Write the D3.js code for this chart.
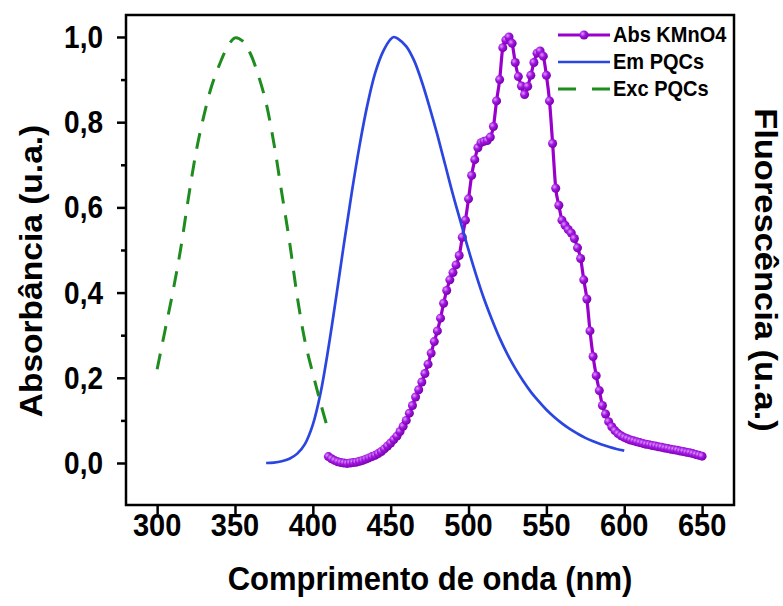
<!DOCTYPE html>
<html>
<head>
<meta charset="utf-8">
<script src="https://cdn.jsdelivr.net/npm/d3@7"></script>
<style>
body { margin: 0; background: #fff; }
svg text { font-family: "Liberation Sans", Arial, sans-serif; font-weight: bold; fill: #000; }
</style>
</head>
<body>
<div id="chart"></div>
<script>
"use strict";

// Abs KMnO4 (purple, with markers)
var absWl = [410,412,414,416,418,420,422,424,426,428,430,432,434,436,438,440,442,444,446,448,
	450,452,454,456,458,460,462,464,466,468,470,472,474,476,478,480,482,484,486,488,
	490,492,494,496,498,500,502,504,506,508,510,512,514,516,518,520,522,524,526,528,
	530,532,534,536,538,540,542,544,546,548,550,552,554,556,558,560,562,564,566,568,
	570,572,574,576,578,580,582,584,586,588,590,592,594,596,598,600,602,604,606,608,
	610,612,614,616,618,620,622,624,626,628,630,632,634,636,638,640,642,644,646,648,650];
var absVal = [0.015,0.010,0.006,0.003,0.001,0.000,-0.001,0.000,0.001,0.002,0.004,0.006,0.009,0.012,0.015,0.018,0.022,0.027,0.033,0.040,
	0.047,0.055,0.063,0.074,0.086,0.100,0.117,0.135,0.155,0.172,0.190,0.210,0.232,0.258,0.285,0.310,0.340,0.375,0.405,0.430,
	0.447,0.465,0.487,0.530,0.570,0.620,0.675,0.712,0.740,0.752,0.755,0.757,0.765,0.790,0.850,0.900,0.975,0.993,1.000,0.985,
	0.940,0.907,0.885,0.865,0.884,0.910,0.940,0.962,0.967,0.955,0.910,0.850,0.750,0.645,0.605,0.570,0.558,0.548,0.540,0.527,
	0.505,0.480,0.430,0.385,0.310,0.250,0.205,0.170,0.135,0.115,0.097,0.085,0.076,0.069,0.064,0.060,0.057,0.054,0.052,0.050,
	0.048,0.046,0.044,0.043,0.041,0.040,0.038,0.037,0.035,0.034,0.032,0.031,0.030,0.028,0.027,0.025,0.024,0.022,0.020,0.018,0.016];

// Em PQCs (blue)
var emWl = [370,375,380,385,390,395,400,405,410,415,420,425,430,435,440,445,450,452,455,460,
	465,470,475,480,485,490,495,500,505,510,515,520,525,530,535,540,545,550,555,560,
	565,570,575,580,585,590,595,600];
var emVal = [0.000,0.001,0.004,0.010,0.022,0.045,0.090,0.165,0.270,0.390,0.515,0.635,0.745,0.840,0.915,0.965,0.995,1.000,0.995,0.978,
	0.945,0.895,0.835,0.770,0.700,0.630,0.565,0.500,0.440,0.385,0.337,0.293,0.255,0.222,0.193,0.167,0.145,0.125,0.108,0.093,
	0.080,0.069,0.059,0.051,0.044,0.038,0.033,0.029];

// Exc PQCs (green dashed)
var excWl = [300,305,310,315,320,325,330,335,340,345,350,355,360,365,370,375,380,385,390,395,400,405,410];
var excVal = [0.22,0.31,0.40,0.50,0.62,0.73,0.815,0.885,0.935,0.975,0.998,0.99,0.96,0.91,0.845,0.75,0.635,0.52,0.39,0.285,0.21,0.14,0.075];

var xTicks = [300,350,400,450,500,550,600,650];
var yTicks = [0.0,0.2,0.4,0.6,0.8,1.0];
var yMinor = [0.1,0.3,0.5,0.7,0.9];
var legendNames = ["Abs KMnO4", "Em PQCs", "Exc PQCs"];

var W = 783, H = 606;
var SY = 1.1; // text in the picture is a little taller than wide

var purple = "#9900cc", blue = "#2b45e0", green = "#1f8c1f";

var svg = d3.select("#chart").append("svg")
	.attr("width", W).attr("height", H);

var defs = svg.append("defs");
var grad = defs.append("radialGradient").attr("id", "ball")
	.attr("cx", "35%").attr("cy", "35%").attr("r", "70%");
grad.append("stop").attr("offset", "0%").attr("stop-color", "#dc9cff");
grad.append("stop").attr("offset", "45%").attr("stop-color", "#a214e0");
grad.append("stop").attr("offset", "100%").attr("stop-color", "#7400a8");

var x = d3.scaleLinear().domain([280, 670.5]).range([126, 734]);
var y = d3.scaleLinear().domain([-0.0986, 1.0516]).range([505, 15]);

var fmt = d3.formatLocale({ decimal: ",", thousands: ".", grouping: [3], currency: ["", ""] }).format(".1f");

// axes ticks (labels drawn separately so they can be stretched)
svg.append("g")
	.attr("transform", "translate(0,505)")
	.call(d3.axisBottom(x).tickValues(xTicks).tickSize(9).tickFormat(""))
	.call(function (g) { g.select(".domain").remove(); })
	.selectAll("line").attr("stroke", "#000").attr("stroke-width", 2.5);

svg.append("g")
	.attr("transform", "translate(126,0)")
	.call(d3.axisLeft(y).tickValues(yTicks).tickSize(9).tickFormat(""))
	.call(function (g) { g.select(".domain").remove(); })
	.selectAll("line").attr("stroke", "#000").attr("stroke-width", 2.5);

svg.append("g")
	.attr("transform", "translate(126,0)")
	.call(d3.axisLeft(y).tickValues(yMinor).tickSize(5).tickFormat(""))
	.call(function (g) { g.select(".domain").remove(); })
	.selectAll("line").attr("stroke", "#000").attr("stroke-width", 2.5);

svg.selectAll(".xlab").data(xTicks).enter().append("text")
	.attr("transform", function (d) { return "translate(" + x(d) + ",536) scale(1," + SY + ")"; })
	.attr("text-anchor", "middle")
	.style("font-size", "29px")
	.text(function (d) { return d; });

svg.selectAll(".ylab").data(yTicks).enter().append("text")
	.attr("transform", function (d) { return "translate(103," + y(d) + ") scale(1," + SY + ")"; })
	.attr("text-anchor", "end")
	.attr("dy", "0.36em")
	.style("font-size", "28px")
	.text(function (d) { return fmt(d); });

// frame
svg.append("rect")
	.attr("x", 126).attr("y", 15).attr("width", 608).attr("height", 490)
	.attr("fill", "none").attr("stroke", "#000").attr("stroke-width", 2.5);

// titles
svg.append("text")
	.attr("transform", "translate(430,590) scale(1," + SY + ")")
	.attr("text-anchor", "middle")
	.style("font-size", "31px")
	.text("Comprimento de onda (nm)");

svg.append("text")
	.attr("transform", "translate(42,271) rotate(-90) scale(" + SY + ",1)")
	.attr("text-anchor", "middle")
	.style("font-size", "30.5px")
	.text("Absorbância (u.a.)");

svg.append("text")
	.attr("transform", "translate(755,270) rotate(90) scale(1.13,1)")
	.attr("text-anchor", "middle")
	.style("font-size", "30.5px")
	.text("Fluorescência (u.a.)");

// series
var smooth = function (curve) {
	return d3.line()
		.x(function (d) { return x(d[0]); })
		.y(function (d) { return y(d[1]); })
		.curve(curve);
};

var absData = d3.zip(absWl, absVal);
var emData = d3.zip(emWl, emVal);
var excData = d3.zip(excWl, excVal);

svg.append("path").datum(absData)
	.attr("d", smooth(d3.curveMonotoneX)).attr("fill", "none")
	.attr("stroke", purple).attr("stroke-width", 3.2);

svg.selectAll(".dot").data(absData).enter().append("circle")
	.attr("cx", function (d) { return x(d[0]); })
	.attr("cy", function (d) { return y(d[1]); })
	.attr("r", 4.5)
	.attr("fill", "url(#ball)");

svg.append("path").datum(emData)
	.attr("d", smooth(d3.curveCatmullRom)).attr("fill", "none")
	.attr("stroke", blue).attr("stroke-width", 2.7);

svg.append("path").datum(excData)
	.attr("d", smooth(d3.curveCatmullRom)).attr("fill", "none")
	.attr("stroke", green).attr("stroke-width", 3)
	.attr("stroke-dasharray", "16,12");

// legend
var legendY = [35, 62, 89];
var lg = svg.append("g");
lg.append("line").attr("x1", 558).attr("x2", 610).attr("y1", legendY[0]).attr("y2", legendY[0])
	.attr("stroke", purple).attr("stroke-width", 3.2);
lg.append("circle").attr("cx", 584).attr("cy", legendY[0]).attr("r", 4.5).attr("fill", "url(#ball)");
lg.append("line").attr("x1", 558).attr("x2", 610).attr("y1", legendY[1]).attr("y2", legendY[1])
	.attr("stroke", blue).attr("stroke-width", 2.7);
lg.append("line").attr("x1", 558).attr("x2", 610).attr("y1", legendY[2]).attr("y2", legendY[2])
	.attr("stroke", green).attr("stroke-width", 3).attr("stroke-dasharray", "18,16");
lg.selectAll("text").data(legendNames).enter().append("text")
	.attr("transform", function (d, i) { return "translate(613," + (legendY[i] + 7) + ") scale(1," + SY + ")"; })
	.style("font-size", "20px")
	.text(function (d) { return d; });
</script>
</body>
</html>
